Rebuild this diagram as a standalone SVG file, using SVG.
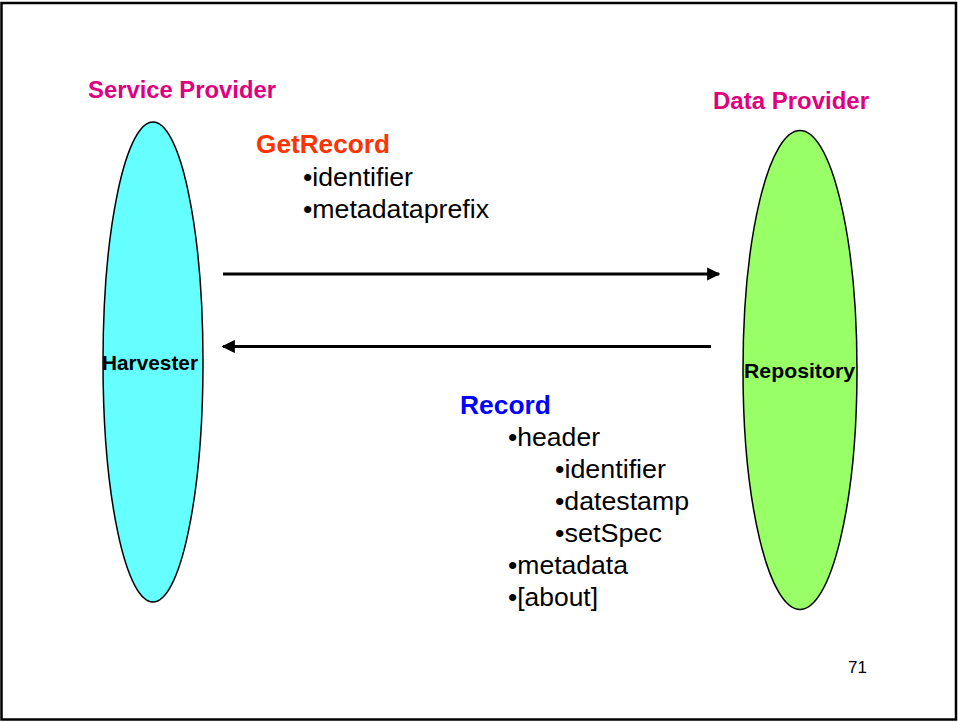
<svg xmlns="http://www.w3.org/2000/svg" width="958" height="722" viewBox="0 0 958 722">
<defs>
<style>
.t{font-family:"Liberation Sans",Arial,sans-serif;fill:#000}
.b{font-weight:bold}
.hdr{font-size:23px;font-weight:bold;fill:#e0007f}
.item{font-size:26px}
.lbl{font-size:21px;font-weight:bold}
.conn{stroke:#000;stroke-width:3;fill:none}
.node{stroke:#000;stroke-width:1.5}
</style>
<marker id="ah" viewBox="0 0 10 10" refX="9" refY="5" markerWidth="4.4" markerHeight="4.4" orient="auto" markerUnits="strokeWidth">
<path d="M0,0 L10,5 L0,10 z" fill="#000"/>
</marker>
</defs>
<rect x="0" y="0" width="958" height="722" fill="#fff"/>
<rect x="1.5" y="3" width="954.5" height="716.5" fill="none" stroke="#000" stroke-width="2.5"/>
<g id="harvester">
<ellipse class="node" cx="153" cy="362" rx="50" ry="240" fill="#66ffff"/>
<text class="t lbl" x="102" y="370" textLength="96" lengthAdjust="spacingAndGlyphs">Harvester</text>
</g>
<g id="repository">
<ellipse class="node" cx="800" cy="370" rx="57" ry="239.5" fill="#99ff66"/>
<text class="t lbl" x="744" y="378" textLength="111" lengthAdjust="spacingAndGlyphs">Repository</text>
</g>
<g id="labels">
<text class="t hdr" x="88" y="98" textLength="188" lengthAdjust="spacingAndGlyphs">Service Provider</text>
<text class="t hdr" x="713" y="109" textLength="156" lengthAdjust="spacingAndGlyphs">Data Provider</text>
</g>
<g id="connectors">
<line class="conn" x1="223" y1="274" x2="719" y2="274" marker-end="url(#ah)"/>
<line class="conn" x1="711" y1="346.5" x2="223" y2="346.5" marker-end="url(#ah)"/>
</g>
<g id="getrecord">
<text class="t b" x="256" y="153" font-size="26" style="fill:#ff3300" textLength="134" lengthAdjust="spacingAndGlyphs">GetRecord</text>
<text class="t item" x="303" y="186" textLength="110" lengthAdjust="spacingAndGlyphs">•identifier</text>
<text class="t item" x="303" y="218" textLength="186" lengthAdjust="spacingAndGlyphs">•metadataprefix</text>
</g>
<g id="record">
<text class="t b" x="460" y="414" font-size="26" style="fill:#0000ff" textLength="91" lengthAdjust="spacingAndGlyphs">Record</text>
<text class="t item" x="508" y="446" textLength="92" lengthAdjust="spacingAndGlyphs">•header</text>
<text class="t item" x="555" y="478" textLength="111" lengthAdjust="spacingAndGlyphs">•identifier</text>
<text class="t item" x="555" y="510" textLength="134" lengthAdjust="spacingAndGlyphs">•datestamp</text>
<text class="t item" x="555" y="542" textLength="107" lengthAdjust="spacingAndGlyphs">•setSpec</text>
<text class="t item" x="508" y="574" textLength="120" lengthAdjust="spacingAndGlyphs">•metadata</text>
<text class="t item" x="508" y="606" textLength="90" lengthAdjust="spacingAndGlyphs">•[about]</text>
</g>
<text class="t" x="848" y="673" font-size="17">71</text>
</svg>
